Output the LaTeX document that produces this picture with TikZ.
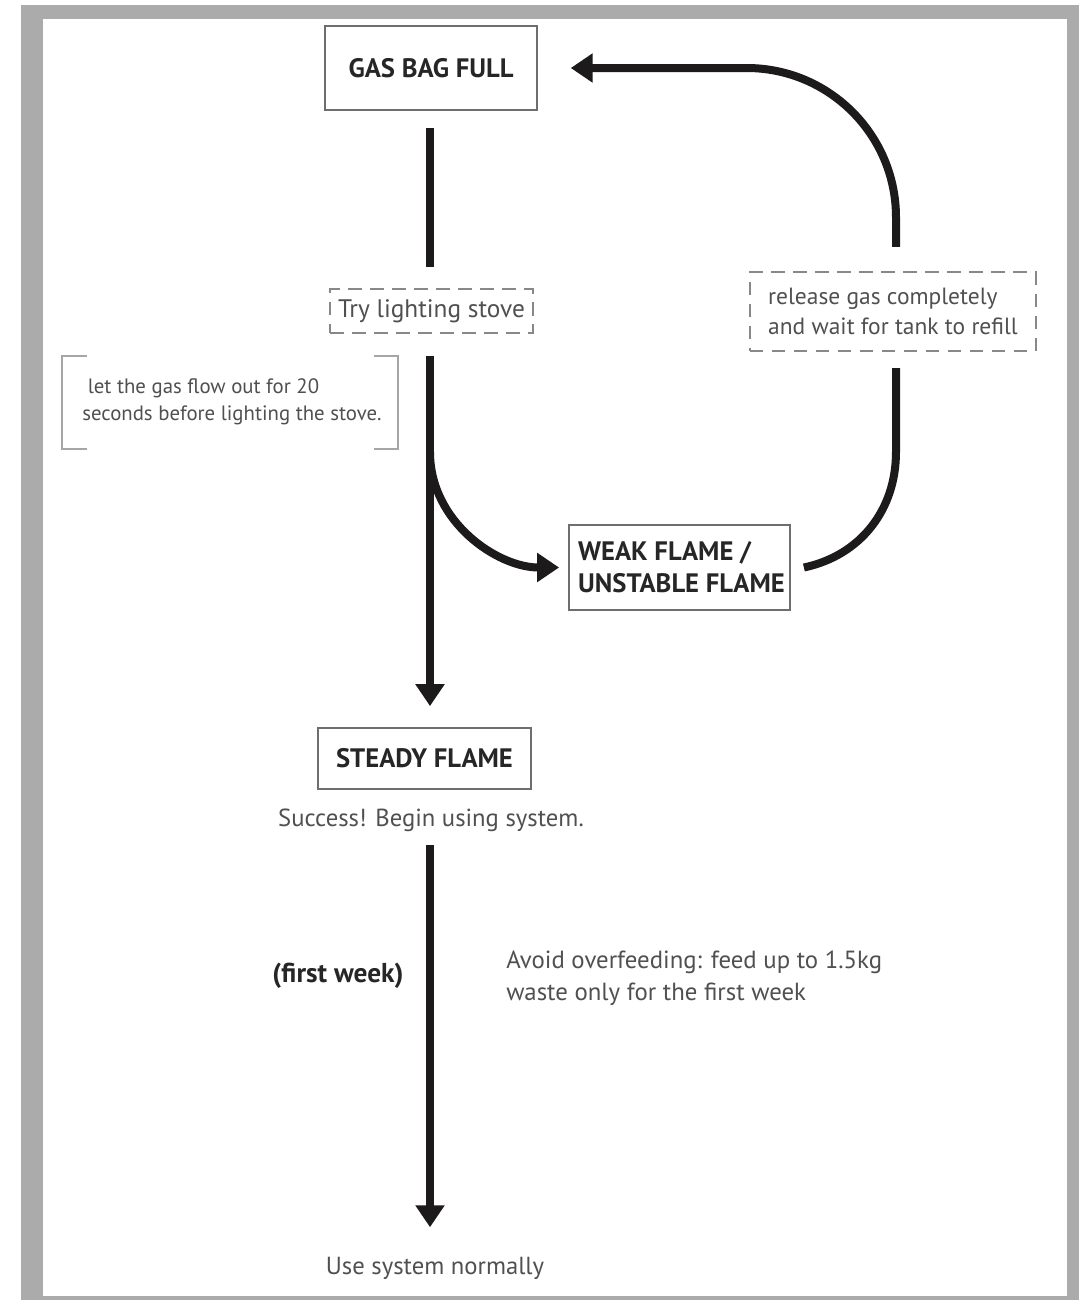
\documentclass[tikz,border=0pt]{standalone}
\usepackage{fontspec}
\setmainfont{PT Sans}
\usetikzlibrary{arrows.meta,positioning}
\definecolor{framegrey}{HTML}{ABABAB}
\definecolor{boxgrey}{HTML}{6E6E6E}
\definecolor{dashgrey}{HTML}{888888}
\definecolor{notegrey}{HTML}{A6A6A6}
\definecolor{textdark}{HTML}{262626}
\definecolor{textlight}{HTML}{505050}
\definecolor{flowblack}{HTML}{1C1A1A}

\begin{document}
\begin{tikzpicture}[x=0.75pt,y=-0.75pt,
  statebox/.style={draw=boxgrey,line width=1.1pt,inner sep=0,text=textdark,
    font=\fontsize{20}{25}\selectfont\bfseries},
  trybox/.style={draw=dashgrey,line width=1.9pt,dash pattern=on 10pt off 6.5pt,
    inner sep=0,text=textlight,font=\fontsize{19}{23}\selectfont},
  plain/.style={inner sep=0,text=textlight,font=\fontsize{18.5}{23}\selectfont},
  flow/.style={draw=flowblack,line width=6pt},
  flowarrow/.style={flow,-{Triangle[length=16.5pt,width=21pt]}},
  bracket/.style={draw=notegrey,line width=1.1pt}]

% frame
\useasboundingbox (0,0) rectangle (1079,1300);
\fill[framegrey] (21,5) rectangle (1079,1300);
\fill[white] (43,19) rectangle (1067,1296);

% Nodes
\node[statebox,minimum width=159pt,minimum height=63pt] (full) at (431,68) {GAS BAG FULL};
\node[trybox,minimum width=152pt,minimum height=33pt] (try) at (431.5,311) {Try lighting stove};
\node[trybox,minimum width=214.5pt,minimum height=59pt,align=left,
  font=\fontsize{17.6}{23}\selectfont] (release) at (893,311.5)
  {release gas completely\\and wait for tank to refill};
\node[statebox,minimum width=166pt,minimum height=64pt,align=left,
  font=\fontsize{20}{24}\selectfont\bfseries] (weak) at (679.5,567.5)
  {\hspace*{3pt}WEAK FLAME /\\\hspace*{3pt}UNSTABLE FLAME};
\node[statebox,minimum width=160pt,minimum height=46pt] (steady) at (424.5,758.5) {STEADY FLAME};
\node[plain] (success) at (431,820) {Success! Begin using system.};
\node[plain] (normal) at (435,1268) {Use system normally};
\node[plain,font=\fontsize{20.5}{24}\selectfont\bfseries,text=textdark] (week) at (338,976) {(first week)};
\node[plain,anchor=west,align=left,font=\fontsize{18.6}{24}\selectfont] (avoid) at (506,978)
  {Avoid overfeeding: feed up to 1.5kg\\waste only for the first week};
\node[plain,anchor=west,align=left,font=\fontsize{15.6}{20}\selectfont] (gasnote) at (82,402)
  {\ let the gas flow out for 20\\seconds before lighting the stove.};

% note brackets
\draw[bracket] (87,356) -| (62,449) -- (87,449);
\draw[bracket] (374,356) -| (398,449) -- (374,449);

\coordinate (split) at (430,452);
\coordinate (rjoin) at (896,452);

%arcs
\draw[flow,shorten <=12.75pt,shorten >=15.75pt] (full.south -| split) -- (try.north -| split);
\draw[flowarrow,shorten <=16.5pt,shorten >=15.75pt] (try.south -| split) -- (steady.north -| split);
\draw[flowarrow,shorten >=6.75pt] (split) to[out=-90,in=180] (weak.west);
\draw[flow,shorten >=12pt] ([xshift=9.75pt]weak.east) to[out=12,in=-90] (rjoin) -- (release.south -| rjoin);
\draw[flowarrow,rounded corners=112pt,shorten >=24.75pt]
  ([yshift=18pt]release.north -| rjoin) |- (full.east);
\draw[flowarrow,shorten <=10pt,shorten >=22pt] (success.south -| split) -- (normal.north -| split);

\end{tikzpicture}
\end{document}
